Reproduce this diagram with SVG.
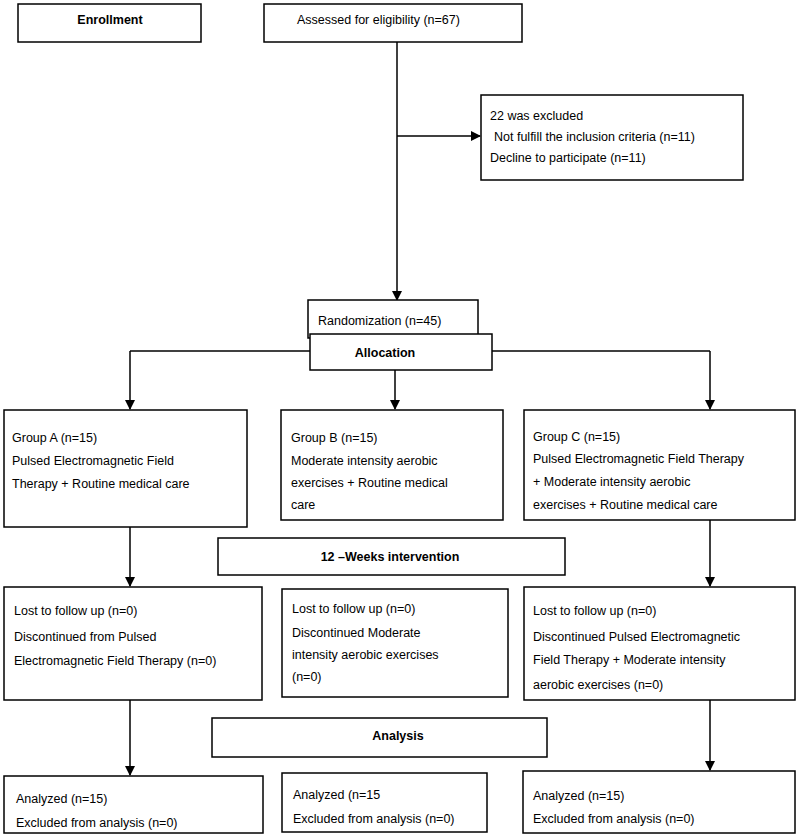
<svg xmlns="http://www.w3.org/2000/svg" width="800" height="837" viewBox="0 0 800 837">
<style>
rect{fill:#fff;stroke:#000;stroke-width:1.5}
text{font-family:"Liberation Sans",Arial,sans-serif;font-size:12.5px;fill:#000}
.b{font-weight:bold;text-anchor:middle}
.c line{stroke:#000;stroke-width:1.5}
</style>
<defs><marker id="a" markerWidth="10" markerHeight="10" refX="9" refY="5" orient="auto" markerUnits="userSpaceOnUse"><path d="M0,0L10,5L0,10z" fill="#000"/></marker></defs>
<rect width="800" height="837" style="stroke:none"/>
<g class="c">
<line x1="397" y1="42" x2="397" y2="300" marker-end="url(#a)"/>
<line x1="397" y1="136" x2="480" y2="136" marker-end="url(#a)"/>
<line x1="397" y1="338" x2="397" y2="334"/>
<line x1="130" y1="351" x2="310" y2="351"/>
<line x1="492" y1="351" x2="710" y2="351"/>
<line x1="130" y1="351" x2="130" y2="409" marker-end="url(#a)"/>
<line x1="710" y1="351" x2="710" y2="409" marker-end="url(#a)"/>
<line x1="395" y1="370" x2="395" y2="409" marker-end="url(#a)"/>
<line x1="130" y1="527" x2="130" y2="586" marker-end="url(#a)"/>
<line x1="710" y1="520" x2="710" y2="586" marker-end="url(#a)"/>
<line x1="130" y1="700" x2="130" y2="775" marker-end="url(#a)"/>
<line x1="710" y1="700" x2="710" y2="770" marker-end="url(#a)"/>
</g>
<g id="enroll"><rect x="18" y="4" width="183" height="38"/><text class="b" x="110" y="24">Enrollment</text></g>
<g id="assessed"><rect x="264" y="4" width="258" height="38"/><text x="297" y="24">Assessed for eligibility (n=67)</text></g>
<g id="excluded"><rect x="481" y="95" width="262" height="85"/><text x="490" y="120">22 was excluded</text><text x="494" y="141">Not fulfill the inclusion criteria (n=11)</text><text x="490" y="162">Decline to participate (n=11)</text></g>
<g id="random"><rect x="308" y="300" width="170" height="38"/><text x="318" y="325">Randomization (n=45)</text></g>
<g id="alloc"><rect x="310" y="334" width="182" height="36"/><text class="b" x="385" y="357">Allocation</text></g>
<g id="groupA"><rect x="4" y="410" width="243" height="117"/><text x="12" y="442">Group A (n=15)</text><text x="12" y="465">Pulsed Electromagnetic Field</text><text x="12" y="488">Therapy + Routine medical care</text></g>
<g id="groupB"><rect x="281" y="410" width="222" height="110"/><text x="291" y="442">Group B (n=15)</text><text x="291" y="465">Moderate intensity aerobic</text><text x="291" y="487">exercises + Routine medical</text><text x="291" y="509">care</text></g>
<g id="groupC"><rect x="524" y="410" width="271" height="110"/><text x="533" y="441">Group C (n=15)</text><text x="533" y="463">Pulsed Electromagnetic Field Therapy</text><text x="533" y="486">+ Moderate intensity aerobic</text><text x="533" y="509">exercises + Routine medical care</text></g>
<g id="weeks"><rect x="218" y="538" width="347" height="37"/><text class="b" x="390" y="561">12 –Weeks intervention</text></g>
<g id="lostA"><rect x="4" y="587" width="258" height="113"/><text x="14" y="615">Lost to follow up (n=0)</text><text x="14" y="641">Discontinued from Pulsed</text><text x="14" y="665">Electromagnetic Field Therapy (n=0)</text></g>
<g id="lostB"><rect x="282" y="589" width="226" height="108"/><text x="292" y="613">Lost to follow up (n=0)</text><text x="292" y="637">Discontinued Moderate</text><text x="292" y="659">intensity aerobic exercises</text><text x="292" y="681">(n=0)</text></g>
<g id="lostC"><rect x="524" y="587" width="271" height="113"/><text x="533" y="615">Lost to follow up (n=0)</text><text x="533" y="641">Discontinued Pulsed Electromagnetic</text><text x="533" y="664">Field Therapy + Moderate intensity</text><text x="533" y="689">aerobic exercises (n=0)</text></g>
<g id="analysis"><rect x="212" y="718" width="335" height="39"/><text class="b" x="398" y="740">Analysis</text></g>
<g id="anA"><rect x="4" y="776" width="259" height="57"/><text x="16" y="803">Analyzed (n=15)</text><text x="16" y="827">Excluded from analysis (n=0)</text></g>
<g id="anB"><rect x="282" y="773" width="205" height="59"/><text x="293" y="799">Analyzed (n=15</text><text x="293" y="823">Excluded from analysis (n=0)</text></g>
<g id="anC"><rect x="523" y="771" width="272" height="62"/><text x="533" y="800">Analyzed (n=15)</text><text x="533" y="823">Excluded from analysis (n=0)</text></g>
</svg>
